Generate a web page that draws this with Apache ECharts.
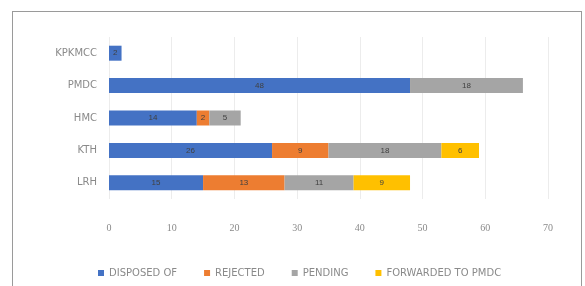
<!DOCTYPE html>
<html>
<head>
<meta charset="utf-8">
<script src="https://cdn.jsdelivr.net/npm/echarts@6/dist/echarts.min.js"></script>
<style>
  html, body { margin: 0; padding: 0; background: #fff; }
  #chart { width: 585px; height: 286px; }
  #frame { position: absolute; left: 12px; top: 11px; width: 568px; height: 290px; border: 1px solid #9a9a9a; pointer-events: none; }
</style>
</head>
<body>
<div id="chart"></div>
<div id="frame"></div>
<script>
const categories = ['KPKMCC', 'PMDC', 'HMC', 'KTH', 'LRH']
const disposedOf = [2, 48, 14, 26, 15]
const rejected = [0, 0, 2, 9, 13]
const pending = [0, 18, 5, 18, 11]
const forwarded = [0, 0, 0, 6, 9]
const xTicks = [0, 10, 20, 30, 40, 50, 60, 70]

const chart = echarts.init(document.getElementById('chart'))

const labelOption = {
  show: true,
  position: 'inside',
  fontSize: 8,
  color: '#404040',
  formatter: p => (p.value ? p.value : '')
}

function makeSeries(name, data, color) {
  return {
    name,
    type: 'bar',
    stack: 'total',
    barWidth: 15,
    data,
    label: labelOption,
    itemStyle: { color },
    animation: false
  }
}

chart.setOption({
  animation: false,
  grid: { left: 109, right: 37, top: 37, bottom: 87 },
  legend: {
    data: ['DISPOSED OF', 'REJECTED', 'PENDING', 'FORWARDED TO PMDC'],
    left: 93,
    top: 263,
    icon: 'rect',
    itemWidth: 6,
    itemHeight: 6,
    itemGap: 27,
    textStyle: { fontSize: 10, color: '#8a8a8a', fontFamily: 'DejaVu Sans' }
  },
  xAxis: {
    type: 'value',
    min: xTicks[0],
    max: xTicks[xTicks.length - 1],
    interval: 10,
    axisLine: { show: false },
    axisTick: { show: false },
    axisLabel: { fontSize: 10, color: '#8a8a8a', margin: 24, fontFamily: 'Liberation Serif' },
    splitLine: { lineStyle: { color: '#ececec' } }
  },
  yAxis: {
    type: 'category',
    data: categories,
    inverse: true,
    axisLine: { show: false },
    axisTick: { show: false },
    axisLabel: { fontSize: 10, color: '#8a8a8a', margin: 12, fontFamily: 'DejaVu Sans' }
  },
  series: [
    makeSeries('DISPOSED OF', disposedOf, '#4472C4'),
    makeSeries('REJECTED', rejected, '#ED7D31'),
    makeSeries('PENDING', pending, '#A5A5A5'),
    makeSeries('FORWARDED TO PMDC', forwarded, '#FFC000')
  ]
})
</script>
</body>
</html>
